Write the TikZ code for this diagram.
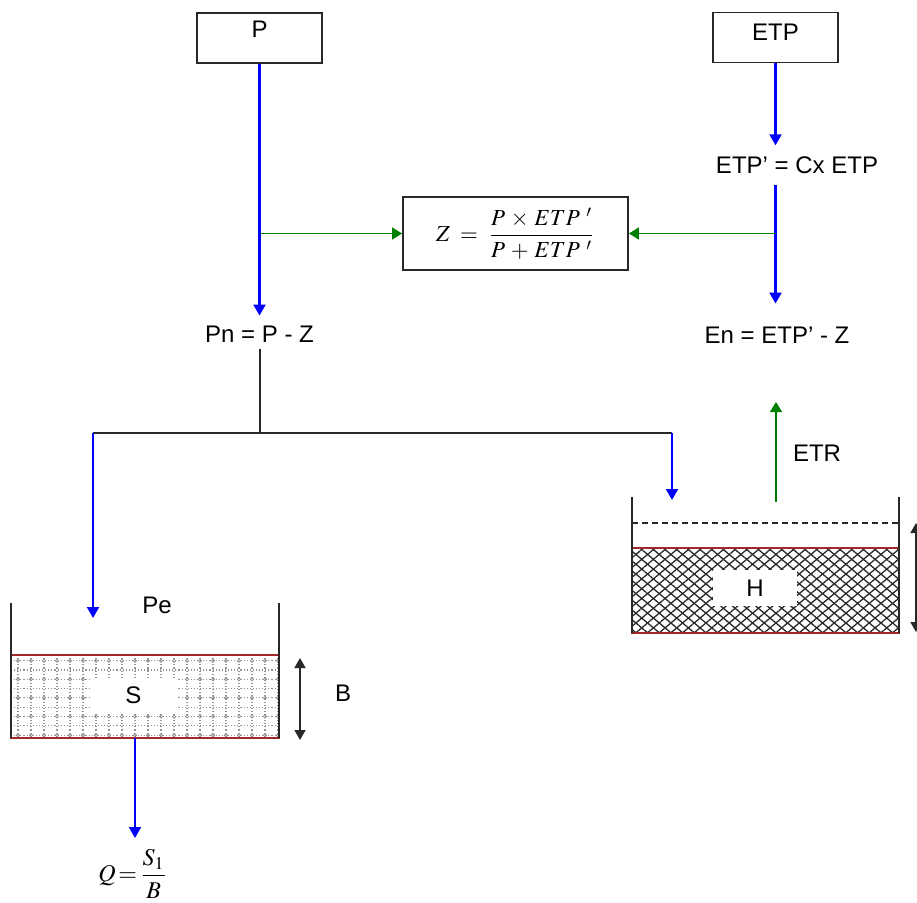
\documentclass[tikz,border=0pt]{standalone}
\usepackage{mathptmx}
\usepackage{graphicx}
\usepackage{fontspec}
\setmainfont{Liberation Sans}
\usetikzlibrary{arrows.meta,patterns.meta}
\definecolor{myblue}{RGB}{0,0,255}
\definecolor{mygreen}{RGB}{0,128,0}
\definecolor{myred}{RGB}{165,40,40}
\definecolor{mydark}{RGB}{40,40,40}
\begin{document}
\begin{tikzpicture}[x=1pt,y=-1pt,
  lab/.style={font=\fontsize{24}{28}\selectfont, inner sep=0pt},
  boxnode/.style={draw=mydark, line width=1.8pt, minimum width=125pt, minimum height=50pt, inner sep=0pt},
  bl/.style={draw=myblue, line width=2.2pt, -{Triangle[width=12pt,length=11pt]}},
  gr/.style={draw=mygreen, line width=1.6pt, -{Triangle[width=12pt,length=10pt]}},
  bk/.style={draw=mydark, line width=2pt},
  wall/.style={draw=mydark, line width=2pt},
  tankfill/.style={draw=myred, line width=1.8pt},
  dbl/.style={draw=mydark, line width=1.8pt, {Triangle[width=11pt,length=10pt]}-{Triangle[width=11pt,length=10pt]}},
]
\useasboundingbox (0,0) rectangle (917,902);

% top boxes
\node[boxnode] (P) at (259.5,38) {};
\node[lab] (Pt) at (259.5,29) {P};
\node[boxnode] (ETP) at (775.5,37.5) {};
\node[lab] (ETPt) at (775.5,32) {ETP};

% labels
\node[lab] (ETPp) at (797,165) {ETP’ = Cx ETP};
\node[lab] (Pn) at (259.5,334) {Pn = P - Z};
\node[lab] (En) at (777,335) {En = ETP’ - Z};

% Z box
\node[draw=mydark, line width=1.8pt, minimum width=225pt, minimum height=73pt, inner sep=0pt] (Z) at (515.5,233.5)
  {\scalebox{2.3}{$\displaystyle Z \;=\; \frac{P \,\times\, ETP\ '}{P \,+\, ETP\ '}$}};

% P branch
\draw[bl] (P.south) -- ([yshift=10pt]Pn.north);
\coordinate (j1) at (P.south |- Z.west);
\draw[gr] (j1) -- (Z.west);

% ETP branch
\coordinate (c1) at (ETP.south |- ETPp.north);
\draw[bl] (ETP.south) -- ([yshift=11pt]c1);
\coordinate (c2) at (ETP.south |- ETPp.south);
\coordinate (c3) at (ETP.south |- En.north);
\draw[bl] ([yshift=-11pt]c2) -- ([yshift=23pt]c3);
\coordinate (j2) at (ETP.south |- Z.east);
\draw[gr] (j2) -- (Z.east);

% split
\coordinate (split) at (259.5,433);
\coordinate (sl) at (93,433);
\coordinate (sr) at (672,433);
\draw[bk] ([yshift=-7pt]Pn.south) -- (split);
\draw[bk] (sl) -- (sr);
\coordinate (pe) at (93,618);
\coordinate (hin) at (672,500);
\draw[bl] (sl) -- (pe);
\draw[bl] (sr) -- (hin);

% left tank S
\node[lab] (Pe) at (157,605) {Pe};
\begin{scope}
  \clip (11,655) rectangle (279,738);
  \foreach \yy in {660.7,670,...,738} \draw[gray!85, dotted, line width=1.1pt] (11,\yy) -- (279,\yy);
  \foreach \xx in {18,31,...,279} \draw[gray!85, dotted, line width=1.1pt] (\xx,655) -- (\xx,738);
  \foreach \yy in {660.7,679.3,...,738} \foreach \xx in {18,31,...,279} \draw[gray!85, line width=0.8pt] (\xx,\yy) circle (1.6pt);
\end{scope}
\draw[tankfill] (11,655) rectangle (279,738);
\draw[wall] (11,603) -- (11,738);
\draw[wall] (279,603) -- (279,738);
\node[lab, fill=white, minimum width=87pt, minimum height=35pt] (S) at (133.5,695.5) {S};
\draw[dbl] (300,658) -- (300,740);
\node[lab] (B) at (343,693) {B};

% outlet
\coordinate (qout) at (135,738);
\coordinate (qtip) at (135,838);
\draw[bl] (qout) -- (qtip);
\node[inner sep=0pt] (Q) at (133,874) {\scalebox{2.4}{$\displaystyle Q\,{=}\,\frac{S_1}{B}$}};

% right tank H
\fill[pattern={Lines[angle=40,distance=7.5pt,line width=1.3pt]}, pattern color=mydark] (632,548) rectangle (899,633);
\fill[pattern={Lines[angle=-40,distance=7.5pt,line width=1.3pt]}, pattern color=mydark] (632,548) rectangle (899,633);
\draw[tankfill] (632,548) rectangle (899,633);
\draw[wall] (632,497) -- (632,633);
\draw[wall] (899,497) -- (899,633);
\draw[mydark, line width=1.6pt, dash pattern=on 6pt off 4pt] (632,523) -- (899,523);
\node[lab, fill=white, minimum width=84pt, minimum height=36pt] (H) at (755,588) {H};
\draw[dbl] (916,523) -- (916,632);

% ETR
\coordinate (etr0) at (776,502);
\coordinate (etr1) at (776,402);
\draw[gr] (etr0) -- (etr1);
\node[lab] (ETR) at (817,453) {ETR};
\end{tikzpicture}
\end{document}
